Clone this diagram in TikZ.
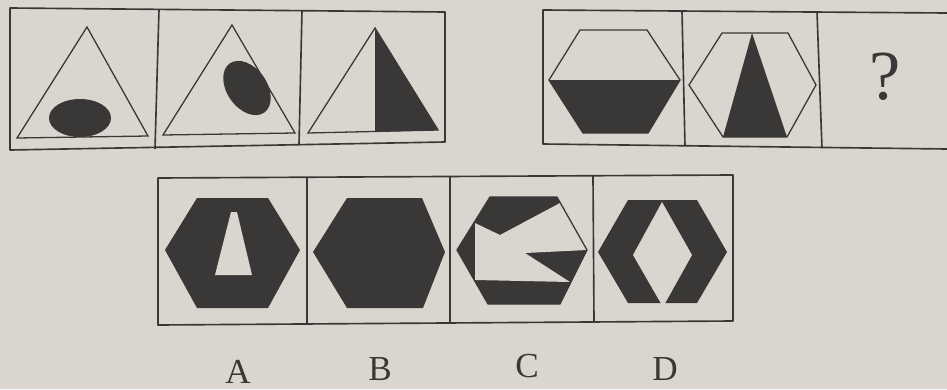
\documentclass[tikz,border=0pt]{standalone}
\usepackage{fontspec}
\setmainfont{Liberation Serif}
\usepackage{xcolor}

\definecolor{paper}{RGB}{218,214,207}
\definecolor{ink}{RGB}{58,56,54}

\tikzset{
  frame/.style={draw=ink, line width=1.4pt, line join=round},
  outline/.style={draw=ink, line width=1.1pt, line join=miter},
  inkfill/.style={fill=ink},
  hole/.style={fill=paper},
  letter/.style={font=\fontsize{30}{32}\selectfont, text=ink, inner sep=0pt}
}

\begin{document}
\begin{tikzpicture}[x=0.03cm, y=-0.03cm]
\fill[paper] (0,0) rectangle (947,389);  % fundo
\useasboundingbox (0,0) rectangle (947,389);

% Sequência 1: triângulos
\draw[frame] (10,8) -- (445,12) -- (445,142) -- (10,150) -- cycle;
\draw[frame] (159,9) -- (155,149);
\draw[frame] (302,10) -- (299,145);
\draw[outline] (87,27) -- (17,138) -- (148,136) -- cycle;
\fill[inkfill] (80,118) ellipse [x radius=31, y radius=19];
\draw[outline] (232,25) -- (163,135) -- (295,133) -- cycle;
\fill[inkfill, rotate around={-55:(247,88)}] (247,88) ellipse [x radius=30, y radius=20];
\draw[outline] (375,28) -- (308,133) -- (438,130) -- cycle;
\fill[inkfill] (375,28) -- (375,132) -- (438,130) -- cycle;

% Sequência 2: hexágonos
\draw[frame] (947,13) -- (543,10) -- (543,144) -- (947,149);
\draw[frame] (682,11) -- (685,146);
\draw[frame] (817,12) -- (822,148);
\fill[inkfill] (549,80) -- (680,80) -- (648,133) -- (583,133) -- cycle;
\draw[outline] (580,30) -- (647,30) -- (680,80) -- (648,133) -- (583,133) -- (549,80) -- cycle;
\fill[inkfill] (752,33) -- (787,137) -- (723,137) -- cycle;
\draw[outline] (722,33) -- (788,33) -- (816,85) -- (787,137) -- (723,137) -- (689,85) -- cycle;
\node[letter, font=\fontsize{60}{62}\selectfont] (qmark) at (885,77) {?};

% Alternativas
\draw[frame] (158,178) -- (733,175) -- (733,321) -- (158,325) -- cycle;
\draw[frame] (307,177) -- (307,324);
\draw[frame] (450,176) -- (450,323);
\draw[frame] (593,176) -- (594,322);
% A
\fill[inkfill] (197,198) -- (268,198) -- (300,250) -- (268,308) -- (197,308) -- (165,250) -- cycle;
\fill[hole] (231,212) -- (237,212) -- (252,275) -- (215,275) -- cycle;
% B
\fill[inkfill] (347,198) -- (422,198) -- (445,252) -- (423,308) -- (347,308) -- (313,252) -- cycle;
% C
\fill[inkfill] (490,197) -- (557,197) -- (587,250) -- (560,304) -- (488,304) -- (457,250) -- cycle;
\fill[hole] (475,223) -- (500,235) -- (560,203) -- (587,250) -- (525,253) -- (570,282) -- (475,280) -- cycle;
\draw[outline] (490,197) -- (557,197) -- (587,250) -- (560,304) -- (488,304) -- (457,250) -- cycle;
% D
\fill[inkfill] (628,200) -- (697,200) -- (727,252) -- (697,303) -- (628,303) -- (598,252) -- cycle;
\fill[hole] (662,202) -- (692,255) -- (663,307) -- (633,255) -- cycle;

\node[letter, anchor=base] (labA) at (238,383) {A};
\node[letter, anchor=base] (labB) at (380,380) {B};
\node[letter, anchor=base] (labC) at (527,377) {C};
\node[letter, anchor=base] (labD) at (665,380) {D};
\end{tikzpicture}
\end{document}
